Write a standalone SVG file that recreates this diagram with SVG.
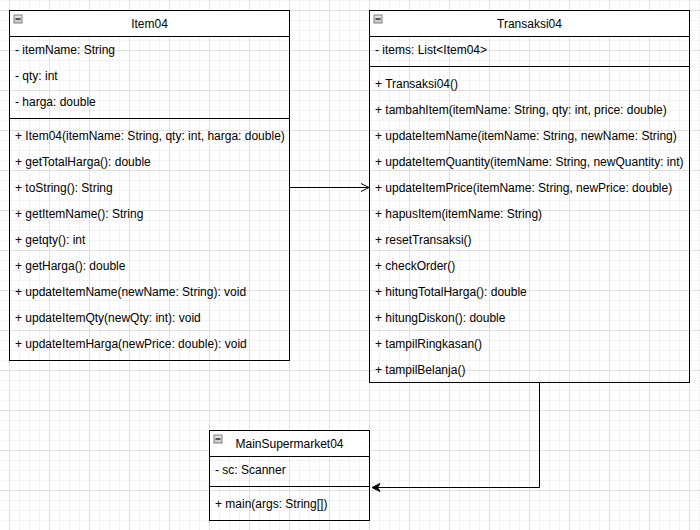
<svg xmlns="http://www.w3.org/2000/svg" width="700" height="530" viewBox="0 0 700 530">
<defs>
<pattern id="grid" patternUnits="userSpaceOnUse" x="9" y="10" width="40" height="40">
<path d="M10.5 0V40M20.5 0V40M30.5 0V40M0 10.5H40M0 20.5H40M0 30.5H40" stroke="#f3f3f3" stroke-width="1" fill="none"/>
<path d="M0.5 0V40M0 0.5H40" stroke="#e0e0e0" stroke-width="1" fill="none"/>
</pattern>
<linearGradient id="ig" x1="0" y1="0" x2="0" y2="1">
<stop offset="0" stop-color="#e8e8e8"/>
<stop offset="1" stop-color="#c8c8c8"/>
</linearGradient>
<g id="icon">
<rect x="0.5" y="0.5" width="8" height="8" fill="url(#ig)" stroke="#808080" stroke-width="1"/>
<path d="M2 4.5H7" stroke="#000" stroke-width="1.2"/>
</g>
</defs>
<style>
text{font-family:"Liberation Sans",Arial,sans-serif;font-size:12px;fill:#000}
.t{text-anchor:middle}
.box{fill:none;stroke:#000;stroke-width:1}
.hd{fill:#fff;stroke:none}
.sep{stroke:#000;stroke-width:1}
.edge{fill:none;stroke:#000;stroke-width:1}
</style>
<rect width="700" height="530" fill="#fff"/>
<rect width="700" height="530" fill="url(#grid)"/>

<g id="Item04">
<rect class="hd" x="9.5" y="10.5" width="280" height="26"/>
<rect class="box" x="9.5" y="10.5" width="280" height="350"/>
<line class="sep" x1="9.5" y1="36.5" x2="289.5" y2="36.5"/>
<line class="sep" x1="9.5" y1="118.5" x2="289.5" y2="118.5"/>
<use href="#icon" x="13.5" y="14.5"/>
<text class="t" x="149.5" y="28">Item04</text>
<text x="15" y="54">- itemName: String</text>
<text x="15" y="80">- qty: int</text>
<text x="15" y="106">- harga: double</text>
<text x="15" y="140">+ Item04(itemName: String, qty: int, harga: double)</text>
<text x="15" y="166">+ getTotalHarga(): double</text>
<text x="15" y="192">+ toString(): String</text>
<text x="15" y="218">+ getItemName(): String</text>
<text x="15" y="244">+ getqty(): int</text>
<text x="15" y="270">+ getHarga(): double</text>
<text x="15" y="296">+ updateItemName(newName: String): void</text>
<text x="15" y="322">+ updateItemQty(newQty: int): void</text>
<text x="15" y="348">+ updateItemHarga(newPrice: double): void</text>
</g>

<g id="Transaksi04">
<rect class="hd" x="369.5" y="10.5" width="320" height="26"/>
<rect class="box" x="369.5" y="10.5" width="320" height="372"/>
<line class="sep" x1="369.5" y1="36.5" x2="689.5" y2="36.5"/>
<line class="sep" x1="369.5" y1="66.5" x2="689.5" y2="66.5"/>
<use href="#icon" x="373.5" y="14.5"/>
<text class="t" x="529.5" y="28">Transaksi04</text>
<text x="375" y="54">- items: List&lt;Item04&gt;</text>
<text x="375" y="88">+ Transaksi04()</text>
<text x="375" y="114">+ tambahItem(itemName: String, qty: int, price: double)</text>
<text x="375" y="140">+ updateItemName(itemName: String, newName: String)</text>
<text x="375" y="166">+ updateItemQuantity(itemName: String, newQuantity: int)</text>
<text x="375" y="192">+ updateItemPrice(itemName: String, newPrice: double)</text>
<text x="375" y="218">+ hapusItem(itemName: String)</text>
<text x="375" y="244">+ resetTransaksi()</text>
<text x="375" y="270">+ checkOrder()</text>
<text x="375" y="296">+ hitungTotalHarga(): double</text>
<text x="375" y="322">+ hitungDiskon(): double</text>
<text x="375" y="348">+ tampilRingkasan()</text>
<text x="375" y="374">+ tampilBelanja()</text>
</g>

<g id="MainSupermarket04">
<rect class="hd" x="209.5" y="430.5" width="160" height="26"/>
<rect class="box" x="209.5" y="430.5" width="160" height="90"/>
<line class="sep" x1="209.5" y1="456.5" x2="369.5" y2="456.5"/>
<line class="sep" x1="209.5" y1="486.5" x2="369.5" y2="486.5"/>
<use href="#icon" x="213.5" y="434.5"/>
<text class="t" x="289.5" y="448">MainSupermarket04</text>
<text x="215" y="474">- sc: Scanner</text>
<text x="215" y="508">+ main(args: String[])</text>
</g>

<g id="connectors">
<path class="edge" d="M289.5 187.5H369"/>
<path class="edge" d="M361 183.5L369 187.5L361 191.5"/>
<path class="edge" d="M539.5 382.5V487.5H377"/>
<path d="M372 487.5L380 483.5L377.5 487.5L380 491.5Z" fill="#000" stroke="#000" stroke-width="1" stroke-linejoin="miter"/>
</g>
</svg>
